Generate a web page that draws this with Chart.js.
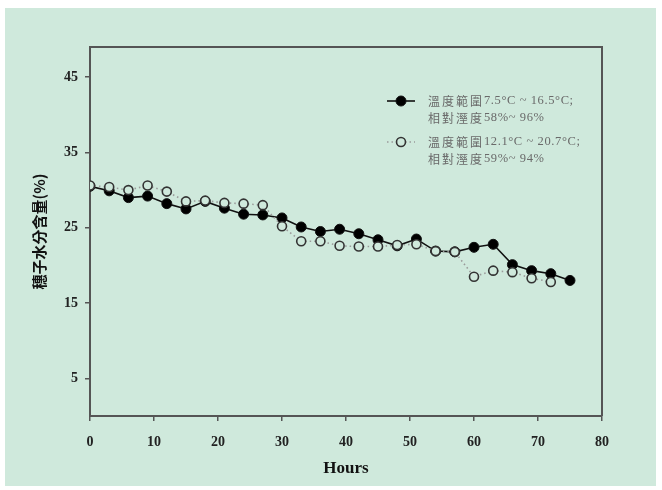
<!DOCTYPE html>
<html><head><meta charset="utf-8">
<style>html,body{margin:0;padding:0;background:#fff;}#wrap{position:absolute;left:0;top:0;width:662px;height:490px;}</style>
<script src="https://cdn.jsdelivr.net/npm/chart.js@4/dist/chart.umd.min.js"></script>
</head><body><div id="wrap"><canvas id="c" width="662" height="490"></canvas></div>
<script>
const hoursA = [0,3,6,9,12,15,18,21,24,27,30,33,36,39,42,45,48,51,54,57,60,63,66,69,72,75];
const moistureA = [30.5,29.9,29.0,29.2,28.2,27.5,28.5,27.6,26.8,26.7,26.3,25.1,24.5,24.8,24.2,23.4,22.6,23.5,21.9,21.8,22.4,22.8,20.1,19.3,18.9,18.0];
const hoursB = [0,3,6,9,12,15,18,21,24,27,30,33,36,39,42,45,48,51,54,57,60,63,66,69,72];
const moistureB = [30.6,30.4,30.0,30.6,29.8,28.5,28.6,28.3,28.2,28.0,25.2,23.2,23.2,22.6,22.5,22.5,22.7,22.8,21.9,21.8,18.5,19.3,19.1,18.3,17.8];
const yTicks = [5,15,25,35,45];
const legendA = ['溫度範圍7.5°C ~ 16.5°C;', '相對溼度58%~ 96%'];
const legendB = ['溫度範圍12.1°C ~ 20.7°C;', '相對溼度59%~ 94%'];
const xTitle = 'Hours';
const yTitle = '穗子水分含量(%)';

const BG = '#cfe9dc';
const AXIS = '#555';

function drawMixed(ctx, text, x, y) {
  const segs = text.match(/[\u3400-\u9fff]+|[^\u3400-\u9fff]+/g) || [];
  let cx = x;
  for (const s of segs) {
    const cjk = /[\u3400-\u9fff]/.test(s);
    ctx.font = cjk ? '12px "Noto Sans CJK TC", sans-serif' : '12.5px "Liberation Serif", serif';
    ctx.letterSpacing = cjk ? '2px' : '0.6px';
    ctx.fillText(s, cx, y);
    cx += ctx.measureText(s).width;
  }
  ctx.letterSpacing = '0px';
}

const bgPlugin = {
  id: 'bg',
  beforeDraw(chart) {
    const ctx = chart.ctx;
    ctx.save();
    ctx.fillStyle = '#ffffff';
    ctx.fillRect(0, 0, chart.width, chart.height);
    ctx.fillStyle = BG;
    ctx.fillRect(5, 8, 651, 478);
    ctx.restore();
  },
  afterDraw(chart) {
    const a = chart.chartArea, ctx = chart.ctx;
    ctx.save();
    ctx.strokeStyle = AXIS;
    ctx.lineWidth = 2;
    ctx.beginPath();
    ctx.moveTo(a.left, a.top);
    ctx.lineTo(a.right, a.top);
    ctx.lineTo(a.right, a.bottom);
    ctx.stroke();
    const entries = [
      {ds: chart.data.datasets[0], text: legendA, y: a.top + 54},
      {ds: chart.data.datasets[1], text: legendB, y: a.top + 95}
    ];
    const x0 = a.left + 297;
    ctx.textBaseline = 'middle';
    for (const e of entries) {
      const ds = e.ds;
      ctx.strokeStyle = ds.borderColor;
      ctx.lineWidth = ds.borderWidth;
      ctx.setLineDash(ds.borderDash || []);
      ctx.beginPath();
      ctx.moveTo(x0, e.y); ctx.lineTo(x0 + 28, e.y); ctx.stroke();
      ctx.setLineDash([]);
      ctx.beginPath();
      ctx.arc(x0 + 14, e.y, ds.pointRadius, 0, Math.PI * 2);
      ctx.fillStyle = ds.pointBackgroundColor;
      ctx.fill();
      ctx.strokeStyle = ds.pointBorderColor;
      ctx.lineWidth = ds.pointBorderWidth;
      ctx.stroke();
      ctx.fillStyle = '#6a6a6a';
      e.text.forEach((t, i) => drawMixed(ctx, t, x0 + 41, e.y + i * 17));
    }
    ctx.restore();
  }
};

new Chart(document.getElementById('c'), {
  type: 'line',
  data: {
    datasets: [
      {
        data: hoursA.map((h, i) => ({x: h, y: moistureA[i]})),
        borderColor: '#111', borderWidth: 1.6,
        pointRadius: 5, pointBackgroundColor: '#000', pointBorderColor: '#111', pointBorderWidth: 1,
        order: 1
      },
      {
        data: hoursB.map((h, i) => ({x: h, y: moistureB[i]})),
        borderColor: '#9a9a9a', borderWidth: 1.6, borderDash: [1.5, 3],
        pointRadius: 4.5, pointBackgroundColor: BG, pointBorderColor: '#333', pointBorderWidth: 1.6,
        order: 0
      }
    ]
  },
  options: {
    responsive: false,
    animation: false,
    events: [],
    layout: {padding: {left: 0, top: 47, right: 60, bottom: 0}},
    plugins: {legend: {display: false}, tooltip: {enabled: false}},
    scales: {
      x: {
        type: 'linear', min: 0, max: 80,
        ticks: {stepSize: 10, color: '#222', font: {family: '"Liberation Serif", serif', size: 14, weight: 'bold'}, padding: 13, maxRotation: 0},
        grid: {drawOnChartArea: false, drawTicks: true, tickLength: 5, color: AXIS, lineWidth: 1.5},
        border: {color: AXIS, width: 2},
        title: {display: true, text: xTitle, color: '#111', font: {family: '"Liberation Serif", serif', size: 17, weight: 'bold'}, padding: {top: 2, bottom: 11}},
        afterFit(s) { s.height = 74; }
      },
      y: {
        type: 'linear', min: 0, max: 49,
        afterBuildTicks(s) { s.ticks = yTicks.map(v => ({value: v})); },
        ticks: {color: '#222', font: {family: '"Liberation Serif", serif', size: 14, weight: 'bold'}, padding: 7},
        grid: {drawOnChartArea: false, drawTicks: true, tickLength: 5, color: AXIS, lineWidth: 1.5},
        border: {color: AXIS, width: 2},
        title: {display: true, text: yTitle, color: '#111', font: {family: '"Noto Sans CJK TC", sans-serif', size: 15, weight: 'bold'}, padding: {top: 30, bottom: 0}},
        afterFit(s) { s.width = 90; }
      }
    }
  },
  plugins: [bgPlugin]
});
</script></body></html>
